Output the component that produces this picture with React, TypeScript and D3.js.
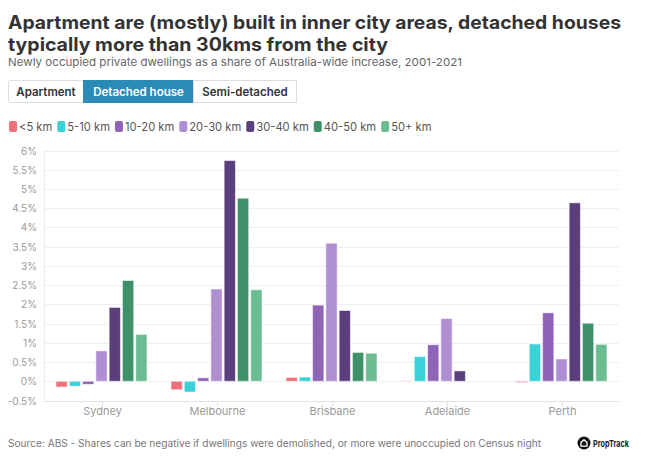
import React, { useEffect, useRef } from "react";
import * as d3 from "d3";

const cities = ["Sydney", "Melbourne", "Brisbane", "Adelaide", "Perth"];
const distanceBands = ["<5 km", "5-10 km", "10-20 km", "20-30 km", "30-40 km", "40-50 km", "50+ km"];
const under5 = [-0.15, -0.22, 0.1, 0.01, -0.03];
const from5to10 = [-0.13, -0.28, 0.11, 0.64, 0.97];
const from10to20 = [-0.08, 0.09, 1.98, 0.95, 1.78];
const from20to30 = [0.79, 2.4, 3.59, 1.63, 0.58];
const from30to40 = [1.92, 5.74, 1.84, 0.27, 4.64];
const from40to50 = [2.62, 4.76, 0.75, 0, 1.51];
const over50 = [1.22, 2.38, 0.73, 0, 0.96];
const seriesValues = [under5, from5to10, from10to20, from20to30, from30to40, from40to50, over50];
const yTicks = [-0.5, 0, 0.5, 1, 1.5, 2, 2.5, 3, 3.5, 4, 4.5, 5, 5.5, 6];
const buttonLabels = ["Apartment", "Detached house", "Semi-detached"];
const activeButton = 1;
const colors = ["#ef6f7b", "#37d3d9", "#8f63b5", "#b08ed2", "#5b3f7d", "#3f916a", "#6cbc91"];

const titleLines = [
  "Apartment are (mostly) built in inner city areas, detached houses",
  "typically more than 30kms from the city",
];
const subtitle = "Newly occupied private dwellings as a share of Australia-wide increase, 2001-2021";
const footer = "Source: ABS - Shares can be negative if dwellings were demolished, or more were unoccupied on Census night";

const W = 658;
const H = 474;
const FONT = "Inter, 'Open Sans', sans-serif";

export default function App() {
  const ref = useRef<SVGSVGElement>(null);

  useEffect(() => {
    const svg = d3.select(ref.current);
    svg.selectAll("*").remove();
    svg.style("font-family", FONT);

    // Title
    const tl = svg.append("g");
    titleLines.forEach((t, i) => {
      const el = tl
        .append("text")
        .attr("x", 8)
        .attr("y", 29 + i * 22)
        .attr("font-size", 18.5)
        .attr("font-weight", 700)
        .attr("fill", "#333333")
        .text(t);
      if (i === 0) el.attr("textLength", 613).attr("lengthAdjust", "spacingAndGlyphs");
      else el.attr("textLength", 380).attr("lengthAdjust", "spacingAndGlyphs");
    });
    svg
      .append("text")
      .attr("x", 8)
      .attr("y", 66)
      .attr("font-size", 11)
      .attr("fill", "#666666")
      .attr("textLength", 454)
      .attr("lengthAdjust", "spacingAndGlyphs")
      .text(subtitle);

    // Buttons
    const bx = [8, 83, 193, 296];
    const bg = svg.append("g");
    buttonLabels.forEach((b, i) => {
      const x0 = bx[i];
      const w = bx[i + 1] - bx[i];
      const active = i === activeButton;
      bg.append("rect")
        .attr("x", x0 + 0.5)
        .attr("y", 80.5)
        .attr("width", w)
        .attr("height", 22)
        .attr("rx", i === 0 ? 2 : 0)
        .attr("fill", active ? "#2b8bb7" : "#ffffff")
        .attr("stroke", active ? "#2b8bb7" : "#dddddd");
      bg.append("text")
        .attr("x", x0 + w / 2 + 0.5)
        .attr("y", 95.5)
        .attr("text-anchor", "middle")
        .attr("font-size", 11.5)
        .attr("font-weight", 600)
        .attr("fill", active ? "#ffffff" : "#333333")
        .text(b);
    });

    // Legend
    const lg = svg.append("g");
    let lx = 9;
    distanceBands.forEach((d, i) => {
      lg.append("rect")
        .attr("x", lx)
        .attr("y", 121)
        .attr("width", 8)
        .attr("height", 11)
        .attr("rx", 2)
        .attr("fill", colors[i]);
      const t = lg
        .append("text")
        .attr("x", lx + 10)
        .attr("y", 131)
        .attr("font-size", 11.2)
        .attr("fill", "#555555")
        .text(d);
      const tw = (t.node() as SVGTextElement).getComputedTextLength();
      lx += 10 + tw + 5;
    });

    // Scales
    const left = 44;
    const right = 619;
    const x0 = d3.scaleBand<string>().domain(cities).range([left, right]).paddingInner(0).paddingOuter(0);
    const x1 = d3
      .scaleBand<string>()
      .domain(distanceBands)
      .range([12, x0.bandwidth() - 12])
      .paddingInner(0.15)
      .paddingOuter(0);
    const y = d3.scaleLinear().domain([-0.5, 6]).range([400.5, 150.5]);

    // Grid
    const grid = svg.append("g");
    yTicks.forEach((t) => {
      grid
        .append("line")
        .attr("x1", left)
        .attr("x2", right)
        .attr("y1", Math.round(y(t)) + 0.5)
        .attr("y2", Math.round(y(t)) + 0.5)
        .attr("stroke", t === -0.5 ? "#e2e2e2" : "#eeeeee");
      grid
        .append("text")
        .attr("x", 37)
        .attr("y", Math.round(y(t)) + 4)
        .attr("text-anchor", "end")
        .attr("font-size", 10)
        .attr("fill", "#999999")
        .text(`${t}%`);
    });
    grid
      .append("line")
      .attr("x1", left + 0.5)
      .attr("x2", left + 0.5)
      .attr("y1", y(6))
      .attr("y2", y(-0.5))
      .attr("stroke", "#eeeeee");

    // X axis ticks + labels
    const xa = svg.append("g");
    cities.forEach((c) => {
      const cx = Math.round((x0(c) as number) + x0.bandwidth() / 2) + 0.5;
      xa.append("line")
        .attr("x1", cx)
        .attr("x2", cx)
        .attr("y1", Math.round(y(-0.5)) + 0.5)
        .attr("y2", Math.round(y(-0.5)) + 5.5)
        .attr("stroke", "#e2e2e2");
      xa.append("text")
        .attr("x", cx)
        .attr("y", 415)
        .attr("text-anchor", "middle")
        .attr("font-size", 11)
        .attr("fill", "#999999")
        .text(c);
    });

    // Bars
    const bars = svg.append("g");
    seriesValues.forEach((vals, si) => {
      vals.forEach((v, ci) => {
        const xs = (x0(cities[ci]) as number) + (x1(distanceBands[si]) as number);
        const y0 = y(0);
        const yv = y(v);
        const top = Math.min(y0, yv);
        const h = Math.abs(yv - y0);
        if (h <= 0) return;
        bars
          .append("rect")
          .attr("x", xs)
          .attr("y", top)
          .attr("width", x1.bandwidth())
          .attr("height", h)
          .attr("fill", colors[si])
          .attr("stroke", "rgba(255,255,255,0.55)")
          .attr("stroke-width", 1);
      });
    });

    // Footer
    svg
      .append("text")
      .attr("x", 8)
      .attr("y", 447)
      .attr("font-size", 10)
      .attr("fill", "#777777")
      .attr("textLength", 533)
      .attr("lengthAdjust", "spacingAndGlyphs")
      .text(footer);

    // Logo
    const logo = svg.append("g").attr("transform", "translate(584,443)");
    logo.append("circle").attr("r", 6.5).attr("fill", "#111111");
    logo
      .append("path")
      .attr("d", "M-3,3.2 L-3,-0.5 L0,-3.3 L3,-0.5 L3,3.2 Z")
      .attr("fill", "none")
      .attr("stroke", "#ffffff")
      .attr("stroke-width", 1.3)
      .attr("stroke-linejoin", "round");
    logo
      .append("text")
      .attr("x", 9)
      .attr("y", 3.5)
      .attr("font-size", 9.5)
      .attr("font-weight", 700)
      .attr("fill", "#222222")
      .attr("textLength", 36)
      .attr("lengthAdjust", "spacingAndGlyphs")
      .text("PropTrack");
  }, []);

  return (
    <svg
      ref={ref}
      width={W}
      height={H}
      viewBox={`0 0 ${W} ${H}`}
      style={{ position: "absolute", left: 0, top: 0, background: "#ffffff" }}
    />
  );
}
